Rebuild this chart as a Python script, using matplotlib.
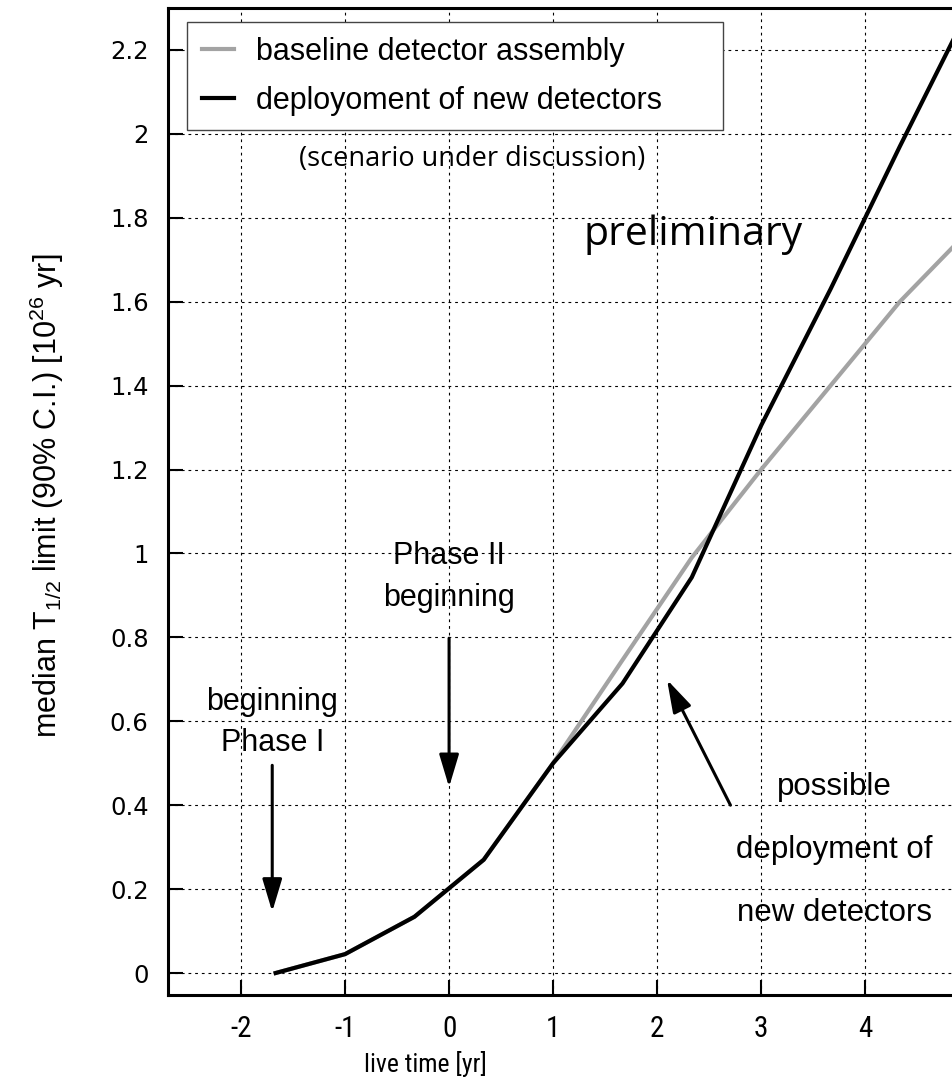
import matplotlib
matplotlib.use("Agg")
from matplotlib import pyplot as plt
from matplotlib import font_manager

# sensitivity projection, live time in years
live_time = [-1.667, -1.0, -0.333, 0.333, 1.0, 1.667, 2.333, 3.0, 3.667, 4.333, 5.0]
limit_baseline = [0.0, 0.045, 0.134, 0.27, 0.5, 0.746, 0.99, 1.2, 1.4, 1.6, 1.77]
limit_new_detectors = [0.0, 0.045, 0.134, 0.27, 0.5, 0.69, 0.943, 1.305, 1.63, 1.97, 2.3]

x_ticks = [-2, -1, 0, 1, 2, 3, 4]
y_ticks = [0, 0.2, 0.4, 0.6, 0.8, 1, 1.2, 1.4, 1.6, 1.8, 2, 2.2]
y_tick_labels = ["0", "0.2", "0.4", "0.6", "0.8", "1", "1.2", "1.4", "1.6", "1.8", "2", "2.2"]

SANS = "Liberation Sans"


def narrow_font():
    """Pick a condensed sans face if one is installed, else plain sans."""
    faces = font_manager.fontManager.ttflist
    names = {f.name for f in faces}
    for name in ("Liberation Sans Narrow", "Roboto Condensed", "Open Sans Condensed"):
        if name in names:
            return dict(family=name)
    for f in faces:
        if f.name == "DejaVu Sans" and f.stretch in ("condensed", 375, 400) and f.style == "normal" \
                and f.weight in ("normal", 400, "book", "regular"):
            return dict(family="DejaVu Sans", stretch="condensed")
    return dict(family=SANS)


NARROW = narrow_font()

plt.rcParams["mathtext.fontset"] = "custom"
plt.rcParams["mathtext.rm"] = SANS
plt.rcParams["mathtext.it"] = SANS + ":italic"

fig = plt.figure(figsize=(9.52, 10.9), dpi=100)
ax = fig.add_axes([168 / 952, 95 / 1090, 796 / 952, 987 / 1090])

ax.plot(live_time, limit_baseline, color="#a3a3a3", lw=3.0, label="baseline detector assembly", zorder=3)
ax.plot(live_time, limit_new_detectors, color="black", lw=3.0, label="deployoment of new detectors", zorder=4)

ax.set_xlim(-2.702, 4.95)
ax.set_ylim(-0.0524, 2.30)

ax.set_xticks(x_ticks)
ax.set_xticklabels([str(t) for t in x_ticks], fontsize=21, **NARROW)
ax.set_yticks(y_ticks)
ax.set_yticklabels(y_tick_labels, fontsize=17.5, family="DejaVu Sans")
ax.tick_params(direction="in", length=11, width=1.5, color="black")
ax.tick_params(axis="x", pad=14.5)
ax.tick_params(axis="y", pad=14)

for spine in ax.spines.values():
    spine.set_linewidth(2.2)

ax.grid(True, color="black", lw=0.8, linestyle=(0, (2.5, 3.5)))

ax.set_xlabel("live time [yr]", fontsize=18.5, **NARROW)
ax.xaxis.set_label_coords(0.324, -0.057)
ax.set_ylabel(r"median T$_{1/2}$ limit (90% C.I.) [10$^{26}$ yr]", fontsize=22, family=SANS)
ax.yaxis.set_label_coords(-0.128, 0.506)

leg = ax.legend(
    loc="upper left",
    bbox_to_anchor=(187 / 952, 1 - 22 / 1090 - 0.2, 536 / 952, 0.2),
    bbox_transform=fig.transFigure,
    mode="expand",
    borderaxespad=0,
    fancybox=False,
    framealpha=1,
    edgecolor="#444444",
    prop={"family": SANS, "size": 22},
    handlelength=1.05,
    handletextpad=0.72,
    labelspacing=0.62,
    borderpad=0.48,
)
leg.get_frame().set_linewidth(1.0)
leg.set_zorder(5)

ax.text(0.22, 1.94, "(scenario under discussion)", fontsize=19.5, family="Open Sans",
        ha="center", va="center")
ax.text(2.346, 1.76, "preliminary", fontsize=29.5, family="Open Sans", ha="center", va="center")

arrow_style = dict(arrowstyle="-|>,head_length=1.0,head_width=0.3", mutation_scale=20,
                   lw=2.2, color="black", shrinkA=0, shrinkB=0)

# start of phase I
ax.text(-1.70, 0.645, "beginning", fontsize=22, family=SANS, ha="center", va="center")
ax.text(-1.70, 0.548, "Phase I", fontsize=22, family=SANS, ha="center", va="center")
ax.annotate("", xy=(-1.70, 0.146), xytext=(-1.70, 0.495), arrowprops=arrow_style)

# start of phase II
ax.text(0.0, 0.995, "Phase II", fontsize=22, family=SANS, ha="center", va="center")
ax.text(0.0, 0.893, "beginning", fontsize=22, family=SANS, ha="center", va="center")
ax.annotate("", xy=(0.0, 0.443), xytext=(0.0, 0.798), arrowprops=arrow_style)

# upgrade with new detectors
ax.text(3.705, 0.443, "possible", fontsize=22.5, family=SANS, ha="center", va="center")
ax.text(3.705, 0.293, "deployment of", fontsize=22.5, family=SANS, ha="center", va="center")
ax.text(3.705, 0.143, "new detectors", fontsize=22.5, family=SANS, ha="center", va="center")
ax.annotate("", xy=(2.095, 0.699), xytext=(2.705, 0.40), arrowprops=arrow_style)

fig.savefig("out.png", dpi=100)
